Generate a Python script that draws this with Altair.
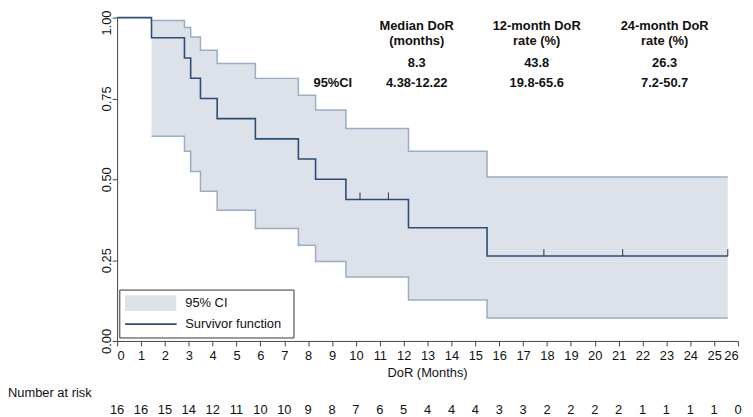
import altair as alt
import pandas as pd

# ---- data ----
km_times = [0, 1.44, 2.82, 3.08, 3.49, 4.19, 5.79, 7.59, 8.31, 9.58, 12.20, 15.49, 25.57]
km_surv = [1.0, 0.9375, 0.875, 0.8125, 0.75, 0.6875, 0.625, 0.5625, 0.5, 0.4375, 0.35, 0.2625, 0.2625]

ci_times = [1.44, 2.82, 3.08, 3.49, 4.19, 5.79, 7.59, 8.31, 9.58, 12.20, 15.49, 25.57]
ci_upper = [0.991, 0.969, 0.940, 0.899, 0.858, 0.812, 0.760, 0.714, 0.657, 0.587, 0.507, 0.507]
ci_lower = [0.633, 0.587, 0.524, 0.463, 0.404, 0.348, 0.296, 0.246, 0.198, 0.127, 0.071, 0.071]

censor_times = [10.17, 11.36, 17.87, 21.17, 25.57]
censor_surv = [0.4375, 0.4375, 0.2625, 0.2625, 0.2625]

risk_times = list(range(27))
risk_counts = [16, 16, 15, 14, 12, 11, 10, 10, 9, 8, 7, 6, 5, 4, 4, 4, 3, 3, 2, 2, 2, 2, 1, 1, 1, 1, 0]

x_ticks = list(range(27))
y_ticks = [0, 0.25, 0.5, 0.75, 1.0]

table_head1 = ["Median DoR", "12-month DoR", "24-month DoR"]
table_head2 = ["(months)", "rate (%)", "rate (%)"]
table_est = ["8.3", "43.8", "26.3"]
table_ci = ["4.38-12.22", "19.8-65.6", "7.2-50.7"]
ci_row_label = "95%CI"
legend_labels = ["95% CI", "Survivor function"]
x_title = "DoR (Months)"
risk_title = "Number at risk"

# ---- styles ----
FONT = "Liberation Sans"
TXT = "#111111"
BAND = "#dde2ea"
CILINE = "#9aadc3"
KMLINE = "#2b4d77"
W, H = 626, 326

km = pd.DataFrame({"t": km_times, "s": km_surv})
ci = pd.DataFrame({"t": ci_times, "up": ci_upper, "lo": ci_lower})
cens = pd.DataFrame({"t": censor_times, "s": censor_surv})
risk = pd.DataFrame({"t": risk_times, "n": risk_counts})

xs = alt.Scale(domain=[0, 26], nice=False, zero=False)
ys = alt.Scale(domain=[0, 1], nice=False)

x_axis = alt.Axis(values=x_ticks, title=None, labelFontSize=13, labelFont=FONT,
                  labelColor=TXT, tickSize=5, labelPadding=4, grid=False,
                  domainColor="#444444", tickColor="#444444", labelOverlap=False)
y_axis = alt.Axis(values=y_ticks, format=".2f", title=None, labelFontSize=13, labelFont=FONT,
                  labelColor=TXT, tickSize=5, labelPadding=2, grid=False, labelAngle=270,
                  labelAlign="center", labelBaseline="alphabetic",
                  labelOffset={"condition": {"test": "datum.value == 1", "value": 5}, "value": 0},
                  domainColor="#444444", tickColor="#444444", labelOverlap=False)

X = alt.X("t:Q", scale=xs, axis=x_axis)


def Y(field):
    return alt.Y(field, type="quantitative", scale=ys, axis=y_axis)


band = alt.Chart(ci).mark_area(interpolate="step-after", color=BAND, opacity=1).encode(
    x=X, y=Y("up"), y2="lo:Q")
upper = alt.Chart(ci).mark_line(interpolate="step-after", color=CILINE, strokeWidth=1.5).encode(
    x=X, y=Y("up"))
lower = alt.Chart(ci).mark_line(interpolate="step-after", color=CILINE, strokeWidth=1.5).encode(
    x=X, y=Y("lo"))
kmline = alt.Chart(km).mark_line(interpolate="step-after", color=KMLINE, strokeWidth=1.6).encode(
    x=X, y=Y("s"))
ticks = alt.Chart(cens).mark_rule(color="#333333", strokeWidth=1, y2Offset=-7).encode(
    x=X, y=Y("s"), y2="s:Q")

risk_txt = alt.Chart(risk).mark_text(font=FONT, fontSize=13, color=TXT, baseline="middle").encode(
    x=X, y=alt.value(396), text="n:Q")

one = pd.DataFrame({"k": [0]})


def label(text, x, y, bold=False, align="center", size=13):
    return alt.Chart(one).mark_text(
        font=FONT, fontSize=size, color=TXT, align=align, baseline="middle",
        fontWeight="bold" if bold else "normal",
    ).encode(x=alt.value(x), y=alt.value(y), text=alt.value(text))


col_x = [302, 423, 552]
texts = []
for i in range(3):
    texts.append(label(table_head1[i], col_x[i], 8.5, bold=True))
    texts.append(label(table_head2[i], col_x[i], 24, bold=True))
    texts.append(label(table_est[i], col_x[i], 45.7, bold=True))
    texts.append(label(table_ci[i], col_x[i], 66, bold=True))
texts.append(label(ci_row_label, 217.5, 66, bold=True))
texts.append(label(x_title, 313, 358))
texts.append(label(risk_title, -110, 378, align="left"))

# legend
leg_box = alt.Chart(one).mark_rect(fill="white", stroke="#333333", strokeWidth=1).encode(
    x=alt.value(2.7), x2=alt.value(178.3), y=alt.value(274.7), y2=alt.value(323))
leg_sw = alt.Chart(one).mark_rect(fill=BAND).encode(
    x=alt.value(8), x2=alt.value(59.7), y=alt.value(280), y2=alt.value(295.7))
leg_ln = alt.Chart(one).mark_rule(color=KMLINE, strokeWidth=1.6).encode(
    x=alt.value(8), x2=alt.value(60), y=alt.value(309))
leg_t1 = label(legend_labels[0], 68.7, 287.5, align="left")
leg_t2 = label(legend_labels[1], 68.7, 309, align="left")

chart = alt.layer(
    band, upper, lower, kmline, ticks, risk_txt,
    leg_box, leg_sw, leg_ln, leg_t1, leg_t2, *texts
).properties(
    width=W, height=H,
    autosize=alt.AutoSizeParams(type="none"),
    padding={"left": 110, "top": 8, "right": 7, "bottom": 75},
).configure_view(stroke=None)

chart.save("out.html", embed_options={"renderer": "svg", "actions": False})
